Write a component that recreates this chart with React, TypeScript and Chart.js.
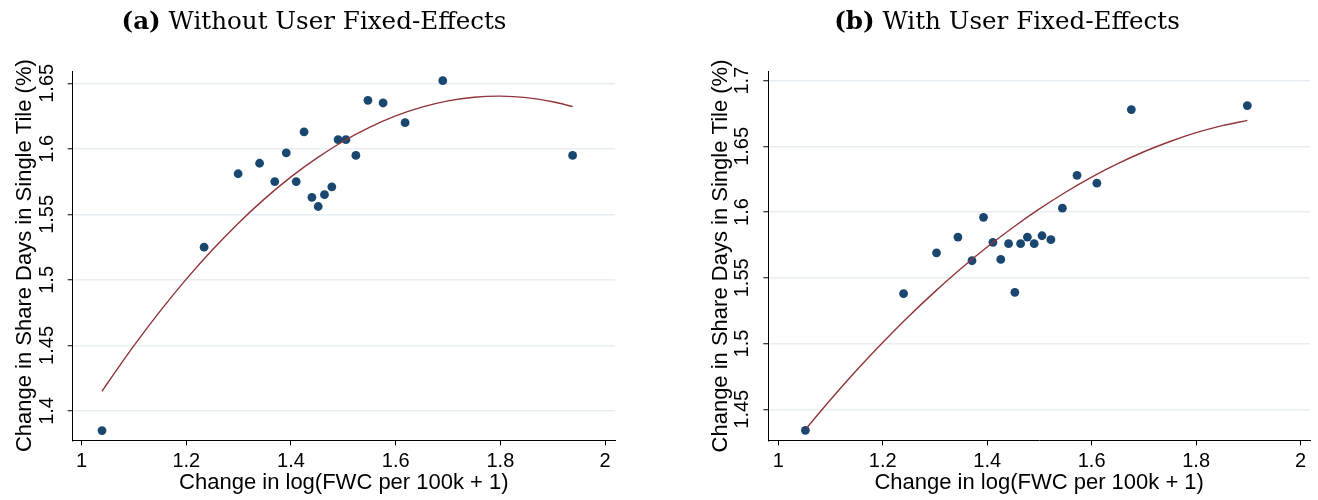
import { useEffect, useRef } from "react";
import { Chart, registerables } from "chart.js";

Chart.register(...registerables);

// Panel (a): binned means and quadratic fit, no user fixed-effects
const binXA = [1.039, 1.234, 1.299, 1.34, 1.369, 1.391, 1.41, 1.425, 1.44, 1.452, 1.464, 1.478, 1.49, 1.505, 1.524, 1.547, 1.576, 1.618, 1.69, 1.938];
const binYA = [1.385, 1.525, 1.581, 1.589, 1.575, 1.597, 1.575, 1.613, 1.563, 1.556, 1.565, 1.571, 1.607, 1.607, 1.595, 1.637, 1.635, 1.62, 1.652, 1.595];
const fitXA = [1.039, 1.05, 1.1, 1.15, 1.2, 1.25, 1.3, 1.35, 1.4, 1.45, 1.5, 1.55, 1.6, 1.65, 1.7, 1.75, 1.8, 1.85, 1.9, 1.938];
const fitYA = [1.415, 1.4215, 1.4498, 1.4762, 1.5006, 1.523, 1.5435, 1.562, 1.5786, 1.5931, 1.6058, 1.6164, 1.6251, 1.6318, 1.6366, 1.6394, 1.6402, 1.6391, 1.6359, 1.6323];
const yTicksA = [1.4, 1.45, 1.5, 1.55, 1.6, 1.65];

// Panel (b): binned means and quadratic fit, with user fixed-effects
const binXB = [1.052, 1.24, 1.303, 1.344, 1.371, 1.393, 1.411, 1.426, 1.441, 1.453, 1.464, 1.477, 1.49, 1.505, 1.522, 1.544, 1.572, 1.61, 1.676, 1.898];
const binYB = [1.434, 1.538, 1.569, 1.581, 1.563, 1.596, 1.577, 1.564, 1.576, 1.539, 1.576, 1.581, 1.576, 1.582, 1.579, 1.603, 1.628, 1.622, 1.678, 1.681];
const fitXB = [1.054, 1.1, 1.15, 1.2, 1.25, 1.3, 1.35, 1.4, 1.45, 1.5, 1.55, 1.6, 1.65, 1.7, 1.75, 1.8, 1.85, 1.898];
const fitYB = [1.4356, 1.4573, 1.4797, 1.5008, 1.5208, 1.5395, 1.5571, 1.5734, 1.5885, 1.6024, 1.6151, 1.6266, 1.6368, 1.6459, 1.6537, 1.6604, 1.6658, 1.6698];
const yTicksB = [1.45, 1.5, 1.55, 1.6, 1.65, 1.7];

const xTicks = [1, 1.2, 1.4, 1.6, 1.8, 2];

const NAVY = "#1a476f";
const MAROON = "#90353b";
const GRID = "#e6eef1";
const SANS = "'Liberation Sans', Arial, sans-serif";

const fmt = (v: number) => String(parseFloat(Number(v).toFixed(2)));

type PanelProps = {
  tag: string;
  title: string;
  titleCenter: number;
  left: number;
  binX: number[];
  binY: number[];
  fitX: number[];
  fitY: number[];
  yTicks: number[];
  yMin: number;
  yMax: number;
  xMin: number;
  xMax: number;
  pad: { left: number; right: number; top: number };
};

function Panel(p: PanelProps) {
  const ref = useRef<HTMLCanvasElement | null>(null);

  useEffect(() => {
    if (!ref.current) return;
    const chart = new Chart(ref.current, {
      type: "scatter",
      data: {
        datasets: [
          {
            type: "line",
            data: p.fitX.map((x, i) => ({ x, y: p.fitY[i] })),
            borderColor: MAROON,
            borderWidth: 1.4,
            pointRadius: 0,
            fill: false,
            tension: 0.3,
            order: 0,
          } as any,
          {
            type: "scatter",
            data: p.binX.map((x, i) => ({ x, y: p.binY[i] })),
            backgroundColor: NAVY,
            borderColor: NAVY,
            borderWidth: 0,
            pointRadius: 4.4,
            order: 1,
          },
        ],
      },
      options: {
        animation: false,
        responsive: false,
        maintainAspectRatio: false,
        devicePixelRatio: 1,
        events: [],
        layout: { padding: { left: p.pad.left, right: p.pad.right, top: p.pad.top, bottom: 0 } },
        plugins: {
          legend: { display: false },
          tooltip: { enabled: false },
          title: { display: false },
        },
        scales: {
          x: {
            type: "linear",
            min: p.xMin,
            max: p.xMax,
            afterBuildTicks: (s: any) => {
              s.ticks = xTicks.map((v) => ({ value: v }));
            },
            afterFit: (s: any) => {
              s.height = 59.7;
            },
            grid: {
              drawOnChartArea: false,
              drawTicks: true,
              tickLength: 5,
              tickColor: "#000",
              tickWidth: 1,
            },
            border: { display: true, color: "#000", width: 1 },
            ticks: {
              color: "#000",
              font: { family: SANS, size: 20 },
              padding: 4,
              maxRotation: 0,
              autoSkip: false,
              callback: (v: any) => fmt(v),
            },
            title: {
              display: true,
              text: "Change in log(FWC per 100k + 1)",
              color: "#000",
              font: { family: SANS, size: 22 },
              padding: { top: 0, bottom: 3.5 },
            },
          },
          y: {
            type: "linear",
            min: p.yMin,
            max: p.yMax,
            afterBuildTicks: (s: any) => {
              s.ticks = p.yTicks.map((v) => ({ value: v }));
            },
            afterFit: (s: any) => {
              s.width = 72.7;
            },
            grid: {
              color: GRID,
              lineWidth: 1.5,
              drawTicks: true,
              tickLength: 5,
              tickColor: "#000",
              tickWidth: 1,
            },
            border: { display: true, color: "#000", width: 1 },
            ticks: {
              color: "#000",
              font: { family: SANS, size: 20 },
              minRotation: 90,
              maxRotation: 90,
              crossAlign: "center",
              padding: 1,
              autoSkip: false,
              callback: (v: any) => fmt(v),
            },
            title: {
              display: true,
              text: "Change in Share Days in Single Tile (%)",
              color: "#000",
              font: { family: SANS, size: 22 },
              padding: { top: 11.8, bottom: 0 },
            },
          },
        },
      },
    });
    return () => chart.destroy();
  }, []);

  return (
    <div style={{ position: "absolute", left: p.left, top: 0, width: 659, height: 500 }}>
      <canvas ref={ref} width={659} height={500} style={{ display: "block", width: 659, height: 500 }} />
      <div
        style={{
          position: "absolute",
          top: 9,
          left: p.titleCenter,
          transform: "translateX(-50%)",
          whiteSpace: "nowrap",
          fontFamily: "'DejaVu Serif', serif",
          fontSize: 24.6,
          lineHeight: "24px",
          color: "#000",
        }}
      >
        <b>{p.tag}</b> {p.title}
      </div>
    </div>
  );
}

export default function App() {
  return (
    <div style={{ position: "absolute", left: 0, top: 0, width: 1318, height: 500, background: "#fff" }}>
      <Panel
        tag="(a)"
        title="Without User Fixed-Effects"
        titleCenter={314}
        left={0}
        binX={binXA}
        binY={binYA}
        fitX={fitXA}
        fitY={fitYA}
        yTicks={yTicksA}
        yMin={1.3776}
        yMax={1.6594}
        xMin={0.983}
        xMax={2.019}
        pad={{ left: 0, right: 44, top: 71 }}
      />
      <Panel
        tag="(b)"
        title="With User Fixed-Effects"
        titleCenter={348}
        left={659}
        binX={binXB}
        binY={binYB}
        fitX={fitXB}
        fitY={fitYB}
        yTicks={yTicksB}
        yMin={1.4264}
        yMax={1.7068}
        xMin={0.981}
        xMax={2.018}
        pad={{ left: 36.6, right: 8, top: 71.7 }}
      />
    </div>
  );
}
